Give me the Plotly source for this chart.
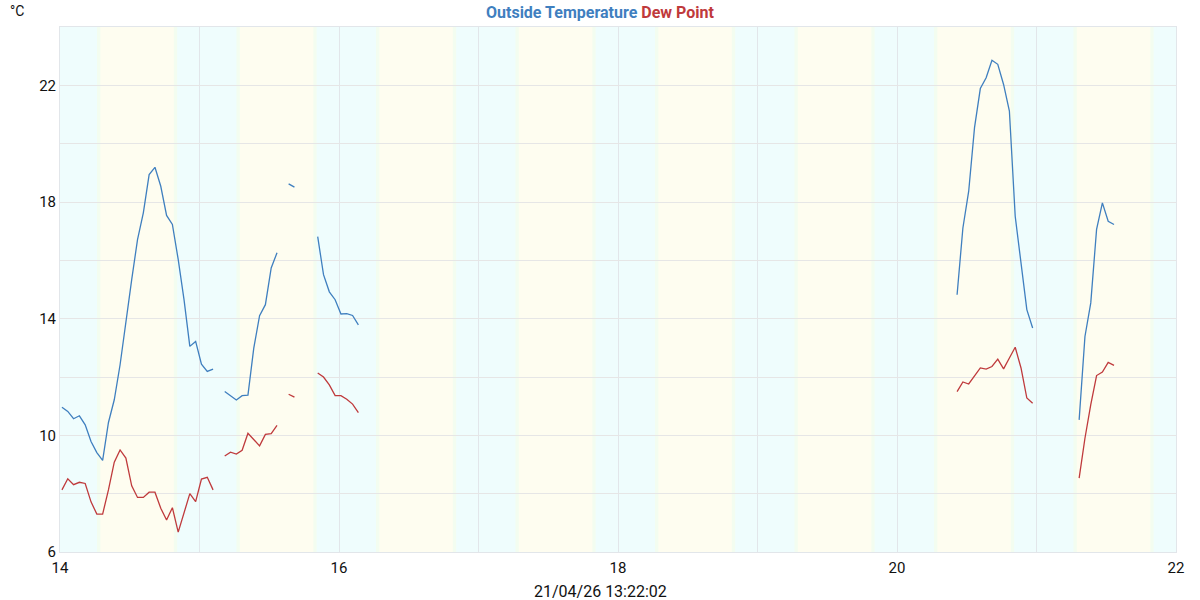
import plotly.graph_objects as go

# ---- data (hourly samples, day-of-month axis) ----
start_day = 14.014          # first sample time (day units)
# segments: (start hour index, values)
temp_segments = [
    (0, [10.96, 10.82, 10.57, 10.67, 10.36, 9.79, 9.41, 9.14, 10.44, 11.22,
         12.42, 13.97, 15.34, 16.71, 17.63, 18.94, 19.19, 18.54, 17.54, 17.23,
         16.03, 14.65, 13.05, 13.22, 12.44, 12.19, 12.27]),
    (28, [11.50, 11.37, 11.21, 11.36, 11.38, 12.99, 14.10, 14.48, 15.74, 16.26]),
    (39, [18.62, 18.51]),
    (44, [16.81, 15.51, 14.92, 14.65, 14.16, 14.17, 14.11, 13.79]),
    (154, [14.82, 17.11, 18.37, 20.55, 21.89, 22.26, 22.86, 22.72, 22.03, 21.12,
           17.51, 15.80, 14.31, 13.68]),
    (175, [10.53, 13.39, 14.54, 17.06, 17.97, 17.34, 17.23]),
]
dew_segments = [
    (0, [8.13, 8.51, 8.31, 8.39, 8.35, 7.72, 7.30, 7.30, 8.13, 9.08,
         9.50, 9.22, 8.27, 7.87, 7.87, 8.05, 8.05, 7.50, 7.10, 7.52,
         6.68, 7.35, 8.00, 7.73, 8.50, 8.56, 8.13]),
    (28, [9.29, 9.42, 9.36, 9.49, 10.07, 9.85, 9.64, 10.03, 10.06, 10.34]),
    (39, [11.41, 11.31]),
    (44, [12.14, 12.00, 11.73, 11.36, 11.36, 11.24, 11.07, 10.78]),
    (154, [11.50, 11.83, 11.76, 12.04, 12.31, 12.27, 12.36, 12.61, 12.28, 12.65,
           13.02, 12.31, 11.28, 11.10]),
    (175, [8.53, 9.90, 11.05, 12.05, 12.17, 12.50, 12.40]),
]
days = [14, 15, 16, 17, 18, 19, 20, 21]
sunrise_frac = 0.277
sunset_frac = 0.828
x_ticks = [14, 16, 18, 20, 22]
y_ticks = [6, 10, 14, 18, 22]
stamp = "21/04/26 13:22:02"

BLUE = "#3f7fbf"
RED = "#bf3a3c"
NIGHT = "#effdfd"
DAY = "#fefdf0"
EDGE = "#f3fdf0"


def build(segs):
    xs, ys = [], []
    for h0, vals in segs:
        if xs:
            xs.append(None)
            ys.append(None)
        for i, v in enumerate(vals):
            xs.append(start_day + (h0 + i) / 24.0)
            ys.append(v)
    return xs, ys


fig = go.Figure()
tx, ty = build(temp_segments)
dx, dy = build(dew_segments)
fig.add_trace(go.Scatter(x=tx, y=ty, mode="lines", line=dict(color=BLUE, width=1.3),
                         connectgaps=False, name="Outside Temperature", showlegend=False))
fig.add_trace(go.Scatter(x=dx, y=dy, mode="lines", line=dict(color=RED, width=1.3),
                         connectgaps=False, name="Dew Point", showlegend=False))

shapes = []
shapes.append(dict(type="rect", xref="x", yref="paper", x0=14, x1=22, y0=0, y1=1,
                   fillcolor=NIGHT, line_width=0, layer="below"))
for d in days:
    a = d + sunrise_frac
    b = d + sunset_frac
    shapes.append(dict(type="rect", xref="x", yref="paper", x0=a, x1=b, y0=0, y1=1,
                       fillcolor=DAY, line_width=0, layer="below"))
    for e in (a, b):
        shapes.append(dict(type="rect", xref="x", yref="paper", x0=e - 0.012, x1=e + 0.012,
                           y0=0, y1=1, fillcolor=EDGE, line_width=0, layer="below"))

CX = (600 - 60) / 1116.0   # figure centre in paper coords

fig.update_layout(
    width=1200, height=600,
    margin=dict(l=60, r=24, t=27, b=48),
    paper_bgcolor="white", plot_bgcolor="white",
    shapes=shapes,
    font=dict(family="Roboto", size=15, color="#111"),
    annotations=[
        dict(text="<b><span style='color:%s'>Outside Temperature</span> "
                  "<span style='color:%s'>Dew Point</span></b>" % (BLUE, RED),
             xref="paper", yref="paper", x=CX, y=1, yshift=15, xanchor="center",
             yanchor="middle", showarrow=False, font=dict(size=16, family="Roboto")),
        dict(text="°C", xref="paper", yref="paper", x=0, xshift=-43, y=1, yshift=16,
             xanchor="center", yanchor="middle", showarrow=False, font=dict(size=14)),
        dict(text=stamp, xref="paper", yref="paper", x=CX, y=0, yshift=-39,
             xanchor="center", yanchor="middle", showarrow=False, font=dict(size=16)),
    ],
    xaxis=dict(range=[14, 22], tickvals=x_ticks, ticktext=[str(v) for v in x_ticks],
               showgrid=False, zeroline=False, showline=True, linecolor="#e2e6ea",
               mirror=True, ticks="", ticklabelstandoff=2, automargin=False,
               minor=dict(dtick=1, tick0=14, showgrid=True, gridcolor="#e2e6ea", gridwidth=1.3)),
    yaxis=dict(range=[6, 24], tickvals=y_ticks, ticktext=[str(v) for v in y_ticks],
               showgrid=False, zeroline=False, showline=True, linecolor="#e2e6ea",
               mirror=True, ticks="", automargin=False,
               minor=dict(dtick=2, tick0=6, showgrid=True, gridcolor="#e6e6e6", gridwidth=1.3)),
)

fig.write_html("out.html", config={"displayModeBar": False},
               post_script="document.body.style.margin='0px';")
